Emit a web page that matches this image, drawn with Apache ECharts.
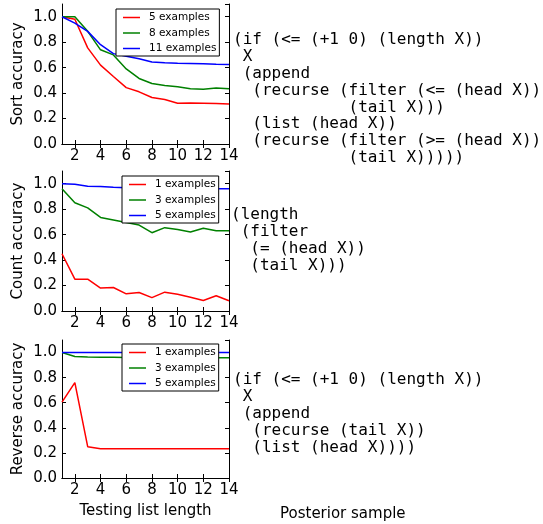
<!DOCTYPE html>
<html>
<head>
<meta charset="utf-8">
<script src="https://cdn.jsdelivr.net/npm/echarts@6/dist/echarts.min.js"></script>
<style>
  html, body { margin: 0; padding: 0; background: #fff; }
  #chart { width: 543px; height: 524px; }
</style>
</head>
<body>
<div id="chart"></div>
<script>
// x positions (testing list length)
const lengths = ['1', '2', '3', '4', '5', '6', '7', '8', '9', '10', '11', '12', '13', '14']

// sort panel
const sort5 = [1.0, 0.98, 0.755, 0.62, 0.53, 0.443, 0.41, 0.365, 0.35, 0.32, 0.322, 0.32, 0.318, 0.315]
const sort8 = [1.0, 1.0, 0.885, 0.74, 0.70, 0.59, 0.515, 0.475, 0.46, 0.45, 0.435, 0.43, 0.44, 0.435]
const sort11 = [1.0, 0.95, 0.885, 0.78, 0.71, 0.69, 0.67, 0.645, 0.638, 0.635, 0.633, 0.63, 0.627, 0.625]

// count panel
const count1 = [0.45, 0.25, 0.25, 0.18, 0.185, 0.135, 0.145, 0.105, 0.148, 0.132, 0.108, 0.082, 0.12, 0.08]
const count3 = [0.96, 0.85, 0.81, 0.735, 0.715, 0.695, 0.675, 0.615, 0.655, 0.64, 0.62, 0.65, 0.63, 0.63]
const count5 = [1.0, 0.995, 0.98, 0.978, 0.972, 0.968, 0.966, 0.965, 0.964, 0.963, 0.962, 0.962, 0.961, 0.96]

// reverse panel
const reverse1 = [0.605, 0.76, 0.25, 0.233, 0.233, 0.233, 0.233, 0.233, 0.233, 0.233, 0.233, 0.233, 0.233, 0.233]
const reverse3 = [1.0, 0.968, 0.965, 0.963, 0.962, 0.961, 0.961, 0.96, 0.96, 0.959, 0.959, 0.958, 0.958, 0.958]
const reverse5 = [1.0, 1.0, 1.0, 1.0, 1.0, 1.0, 1.0, 1.0, 1.0, 1.0, 1.0, 1.0, 1.0, 1.0]

// posterior samples (program text)
const sortProgram = [
  '(if (<= (+1 0) (length X))',
  ' X',
  ' (append',
  '  (recurse (filter (<= (head X))',
  '            (tail X)))',
  '  (list (head X))',
  '  (recurse (filter (>= (head X))',
  '            (tail X)))))'
]
const countProgram = [
  '(length',
  ' (filter',
  '  (= (head X))',
  '  (tail X)))'
]
const reverseProgram = [
  '(if (<= (+1 0) (length X))',
  ' X',
  ' (append',
  '  (recurse (tail X))',
  '  (list (head X))))'
]

const FONT = 'DejaVu Sans'
const MONO = 'DejaVu Sans Mono'

// 三个子图的位置
const grids = [
  { left: 62, width: 167, top: 4, height: 140 },
  { left: 62, width: 167, top: 171, height: 140 },
  { left: 62, width: 167, top: 340, height: 138 }
]

function evenOnly(idx, val) {
  return Number(val) % 2 === 0
}

const xAxes = []
const yAxes = []
grids.forEach(function(g, i) {
  // bottom / top
  xAxes.push({
    type: 'category', gridIndex: i, data: lengths, boundaryGap: false, position: 'bottom',
    axisLine: { lineStyle: { color: '#000', width: 1 } },
    axisTick: { inside: true, length: 4, interval: evenOnly, lineStyle: { color: '#000' } },
    axisLabel: { interval: evenOnly, color: '#000', fontFamily: FONT, fontSize: 15, margin: 5 },
    name: i === 2 ? 'Testing list length' : '',
    nameLocation: 'middle', nameGap: 26,
    nameTextStyle: { color: '#000', fontFamily: FONT, fontSize: 15 }
  })
  xAxes.push({
    type: 'category', gridIndex: i, data: lengths, boundaryGap: false, position: 'top',
    axisLine: { lineStyle: { color: '#000', width: 1 } },
    axisTick: { inside: true, length: 4, interval: evenOnly, lineStyle: { color: '#000' } },
    axisLabel: { show: false }
  })
  yAxes.push({
    type: 'value', gridIndex: i, min: 0, max: 1.1, interval: 0.2, position: 'left',
    axisLine: { show: true, lineStyle: { color: '#000', width: 1 } },
    axisTick: { show: true, inside: true, length: 4, lineStyle: { color: '#000' } },
    axisLabel: { color: '#000', fontFamily: FONT, fontSize: 15, margin: 5, showMaxLabel: false,
      formatter: function(v) { return v.toFixed(1) } },
    splitLine: { show: false },
    name: ['Sort accuracy', 'Count accuracy', 'Reverse accuracy'][i],
    nameLocation: 'middle', nameGap: 36,
    nameTextStyle: { color: '#000', fontFamily: FONT, fontSize: 15 }
  })
  yAxes.push({
    type: 'value', gridIndex: i, min: 0, max: 1.1, interval: 0.2, position: 'right',
    axisLine: { show: true, lineStyle: { color: '#000', width: 1 } },
    axisTick: { show: true, inside: true, length: 4, lineStyle: { color: '#000' } },
    axisLabel: { show: false },
    splitLine: { show: false }
  })
})

function makeSeries(name, data, color, panel) {
  return {
    name: name, type: 'line', data: data,
    xAxisIndex: panel * 2, yAxisIndex: panel * 2,
    symbol: 'none', smooth: false,
    lineStyle: { color: color, width: 1.5 },
    itemStyle: { color: color }
  }
}

const RED = '#ff0000'
const GREEN = '#008000'
const BLUE = '#0000ff'

const series = [
  makeSeries('sort:5 examples', sort5, RED, 0),
  makeSeries('sort:8 examples', sort8, GREEN, 0),
  makeSeries('sort:11 examples', sort11, BLUE, 0),
  makeSeries('count:1 examples', count1, RED, 1),
  makeSeries('count:3 examples', count3, GREEN, 1),
  makeSeries('count:5 examples', count5, BLUE, 1),
  makeSeries('rev:1 examples', reverse1, RED, 2),
  makeSeries('rev:3 examples', reverse3, GREEN, 2),
  makeSeries('rev:5 examples', reverse5, BLUE, 2)
]

function makeLegend(names, left, top) {
  return {
    data: names, orient: 'vertical', left: left, top: top,
    padding: [3, 3, 2, 7], itemGap: 4.5, itemWidth: 17, itemHeight: 1.5, icon: 'rect',
    borderColor: '#000', borderWidth: 1, borderRadius: 0, backgroundColor: '#fff',
    textStyle: { color: '#000', fontFamily: FONT, fontSize: 10.5, padding: [0, 0, 0, 4] },
    formatter: function(n) { return n.split(':')[1] },
    selectedMode: false
  }
}

function codeText(lines, x, y) {
  return {
    type: 'text', left: x, top: y,
    style: { text: lines.join('\n'), font: '16px "' + MONO + '"', fill: '#000', lineHeight: 16.86 }
  }
}

const option = {
  animation: false,
  backgroundColor: '#fff',
  grid: grids,
  xAxis: xAxes,
  yAxis: yAxes,
  legend: [
    makeLegend(['sort:5 examples', 'sort:8 examples', 'sort:11 examples'], 116, 9),
    makeLegend(['count:1 examples', 'count:3 examples', 'count:5 examples'], 122, 176),
    makeLegend(['rev:1 examples', 'rev:3 examples', 'rev:5 examples'], 122, 344)
  ],
  series: series,
  graphic: [
    codeText(sortProgram, 233, 31.6),
    codeText(countProgram, 231, 206.6),
    codeText(reverseProgram, 233, 371.6),
    {
      type: 'text', left: 280, top: 507,
      style: { text: 'Posterior sample', font: '15px "' + FONT + '"', fill: '#000' }
    }
  ]
}

const myChart = echarts.init(document.getElementById('chart'))
myChart.setOption(option)
</script>
</body>
</html>
